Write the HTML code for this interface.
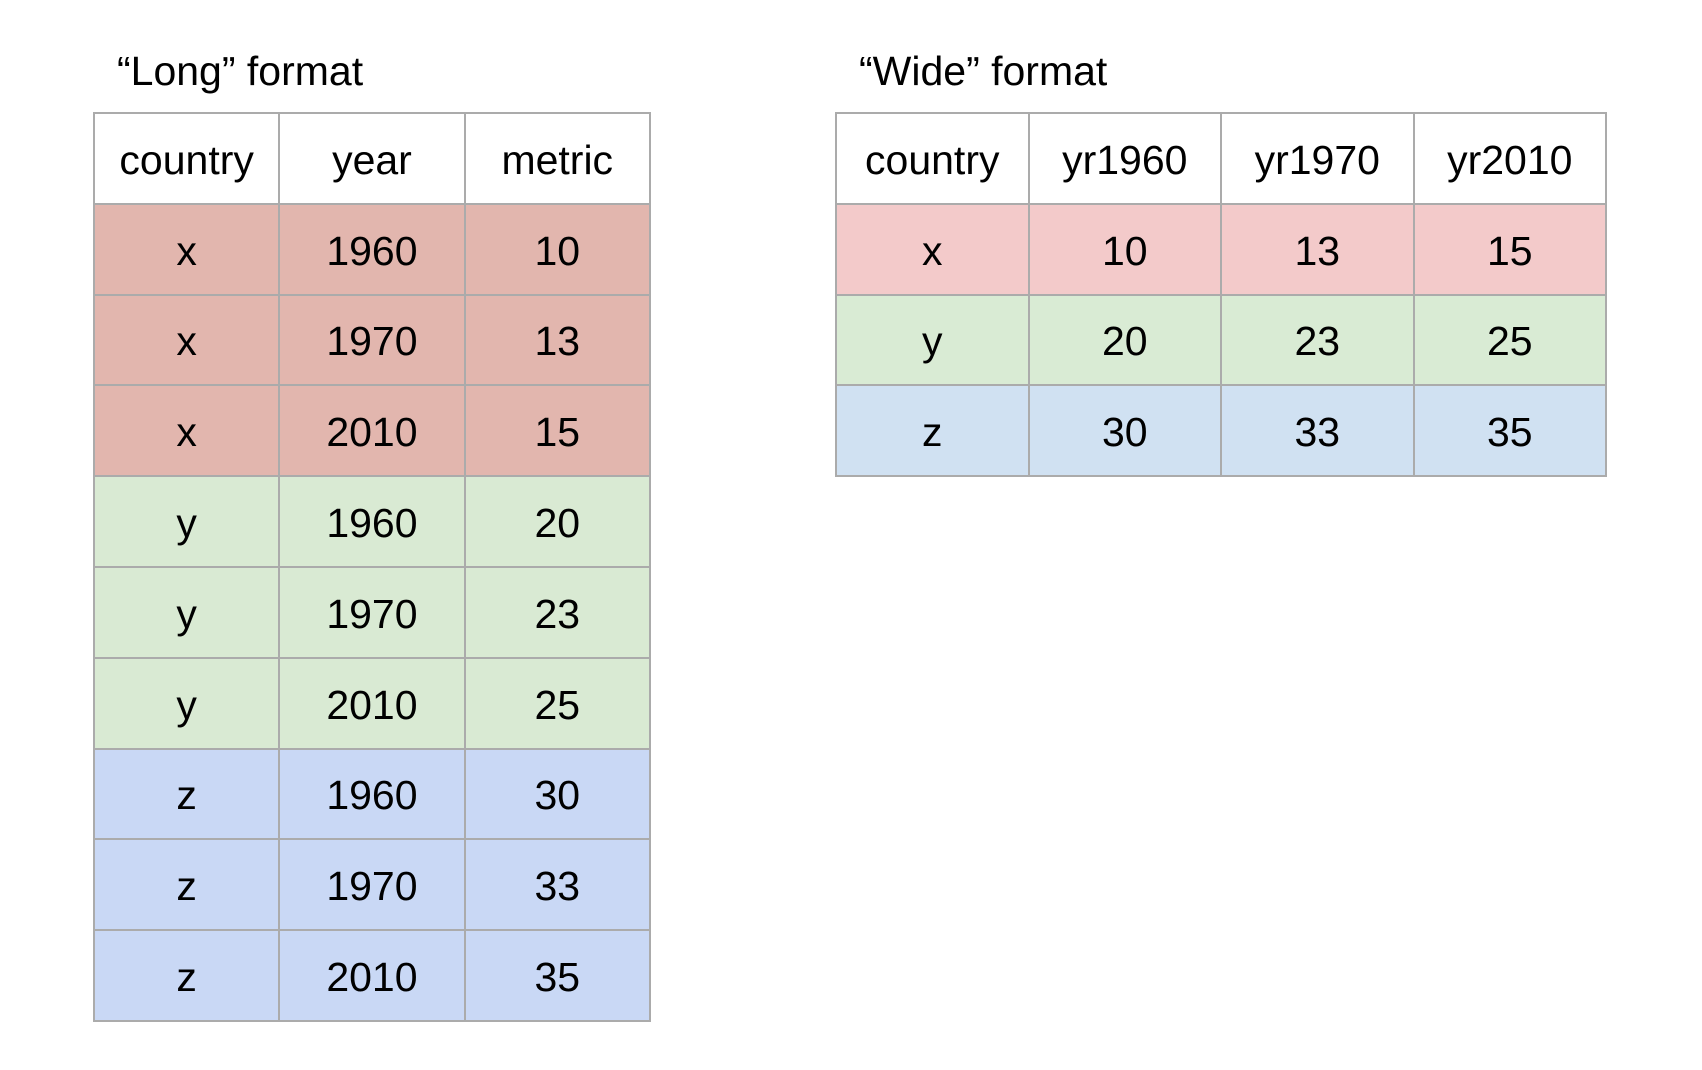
<!DOCTYPE html>
<html><head><meta charset="utf-8"><style>
body{margin:0;width:1702px;height:1070px;background:#fff;position:relative;font-family:"Liberation Sans",sans-serif;overflow:hidden}
.t{position:absolute;font-size:41px;color:#000;line-height:1}
.c{position:absolute;box-sizing:border-box;border:2px solid #ababab;display:flex;align-items:center;justify-content:center;font-size:41px;color:#000;margin-left:-1px;margin-top:-1px;padding-top:4px}
</style></head><body>
<div class="t" style="left:117px;top:51px">“Long” format</div>
<div class="t" style="left:859px;top:51px">“Wide” format</div>
<div id="long"></div>
<div id="wide"></div>
<script>
const longHeaders=["country","year","metric"];
const longCountry=["x","x","x","y","y","y","z","z","z"];
const longYear=["1960","1970","2010","1960","1970","2010","1960","1970","2010"];
const longMetric=["10","13","15","20","23","25","30","33","35"];
const wideHeaders=["country","yr1960","yr1970","yr2010"];
const wideCountry=["x","y","z"];
const wideValues=[["10","13","15"],["20","23","25"],["30","33","35"]];
const longColors={x:"#e2b6ae",y:"#d9ead3",z:"#c9d8f5"};
const wideColors={x:"#f3caca",y:"#d9ebd4",z:"#d0e1f2"};
function cell(parent,x,y,w,h,txt,bg,name){
  const d=document.createElement('div');
  d.className='c';
  d.style.cssText=`left:${x}px;top:${y}px;width:${w+2}px;height:${h+2}px;background:${bg}`;
  d.textContent=txt;
  
  
  parent.appendChild(d);
}
const L=document.getElementById('long');
const lx=94,ly=113,lw=185.3,rh=90.8;
longHeaders.forEach((h,i)=>cell(L,lx+i*lw,ly,lw,rh,h,'#fff','long-header-'+h));
longCountry.forEach((c,r)=>{
  const row=[c,longYear[r],longMetric[r]];
  row.forEach((v,i)=>cell(L,lx+i*lw,ly+(r+1)*rh,lw,rh,v,longColors[c],'long-cell-'+r+'-'+i));
});
const W=document.getElementById('wide');
const wx=836,wy=113,ww=192.5;
wideHeaders.forEach((h,i)=>cell(W,wx+i*ww,wy,ww,rh,h,'#fff','wide-header-'+h));
wideCountry.forEach((c,r)=>{
  const row=[c].concat(wideValues[r]);
  row.forEach((v,i)=>cell(W,wx+i*ww,wy+(r+1)*rh,ww,rh,v,wideColors[c],'wide-cell-'+r+'-'+i));
});
</script>
</body></html>
